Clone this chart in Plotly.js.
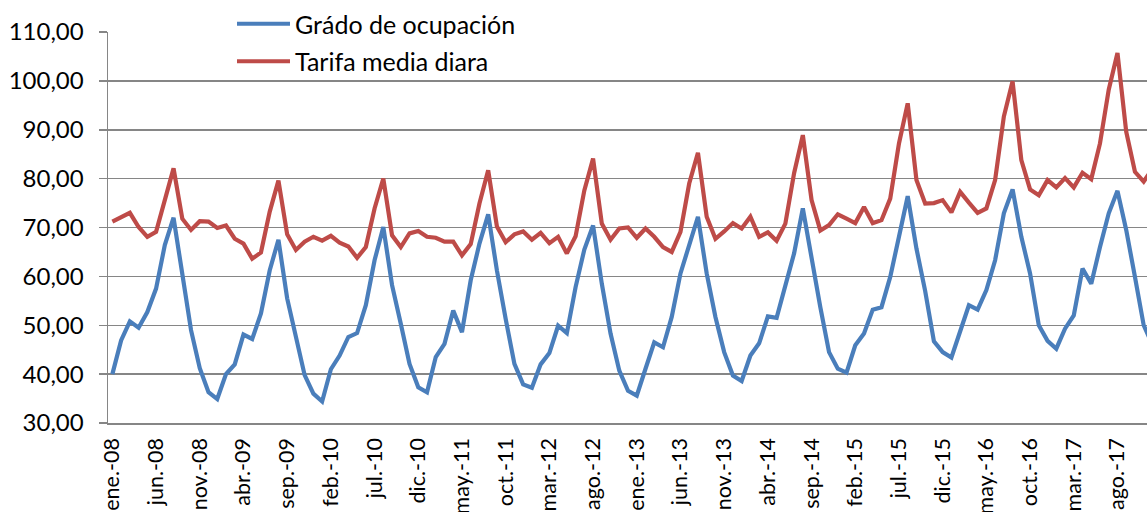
<!DOCTYPE html>
<html><head><meta charset="utf-8">
<script src="https://cdn.plot.ly/plotly-3.0.1.min.js"></script>
<style>html,body{margin:0;padding:0;background:#fff;overflow:hidden}#chart{width:1147px;height:512px}</style>
</head><body><div id="chart"></div>
<script>
const monthNames = ['ene.','feb.','mar.','abr.','may.','jun.','jul.','ago.','sep.','oct.','nov.','dic.'];
const years = ['08','09','10','11','12','13','14','15','16','17'];
const categories = [];
years.forEach(y => monthNames.forEach(m => categories.push(m + '-' + y)));

const ocupacion = [
  40.0,46.9,50.8,49.5,52.7,57.5,66.4,72.0,60.5,49.0,41.2,36.3,
  34.9,40.0,42.0,48.1,47.2,52.4,61.2,67.5,55.5,47.2,39.8,36.0,
  34.4,41.0,43.8,47.6,48.4,54.1,63.3,70.1,58.2,50.3,42.1,37.3,
  36.3,43.5,46.2,53.0,48.6,59.2,66.7,72.7,61.2,51.3,42.1,37.9,
  37.2,42.0,44.3,49.9,48.4,57.8,65.5,70.4,58.5,48.3,40.7,36.6,
  35.6,41.1,46.5,45.5,51.7,60.6,66.7,72.2,60.6,51.7,44.5,39.7,
  38.6,43.8,46.3,51.8,51.5,58.2,64.7,73.9,63.3,53.7,44.5,41.1,
  40.3,45.9,48.3,53.2,53.7,59.9,68.1,76.4,65.7,57.0,46.7,44.5,
  43.4,49.0,54.1,53.2,57.2,63.3,72.9,77.8,68.1,60.6,50.0,46.8,
  45.2,49.3,52.0,61.6,58.5,66.0,72.9,77.5,69.5,59.9,50.0,46.0
];
const tarifa = [
  71.2,72.0,73.0,70.1,68.1,69.1,75.6,82.1,71.8,69.5,71.3,71.2,
  69.9,70.4,67.7,66.7,63.6,64.9,73.2,79.6,68.6,65.4,67.1,68.1,
  67.3,68.3,66.9,66.1,63.8,66.0,73.9,80.0,68.4,66.0,68.8,69.3,
  68.1,67.9,67.1,67.1,64.3,66.6,74.9,81.7,70.2,67.0,68.6,69.2,
  67.5,68.9,66.8,68.1,64.7,68.2,77.6,84.1,70.8,67.5,69.8,70.0,
  67.9,69.8,68.1,66.0,65.0,69.1,79.0,85.3,72.2,67.7,69.2,70.9,
  69.8,72.2,68.1,69.0,67.3,70.8,81.1,88.9,75.6,69.4,70.5,72.7,
  71.8,70.9,74.2,70.9,71.5,75.9,87.2,95.4,79.7,74.9,75.0,75.6,
  73.1,77.3,75.1,73.0,73.9,79.7,92.7,99.9,83.8,77.8,76.6,79.7,
  78.2,80.1,78.2,81.2,79.9,87.2,98.2,105.7,89.6,81.4,79.4,82.0
];
const seriesNames = ['Grádo de ocupación', 'Tarifa media diara'];
const seriesColors = ['#4A7EBB', '#BE4B48'];

const tickLabels = categories.filter((c, i) => i % 5 === 0);
const boundaryTicks = categories.map((c, i) => i - 0.5).filter((v, i) => i % 5 === 0);

const W = 1147, H = 512, ML = 108, MT = 32, MB = 89;
const plotW = W - ML, plotH = H - MT - MB;
const step = 8.74;
const xRange = [-0.5, -0.5 + plotW / step];
const fontFam = 'Lato, "Open Sans", sans-serif';

const traces = [ocupacion, tarifa].map((vals, k) => ({
  type: 'scatter', mode: 'lines',
  x: categories, y: vals,
  name: seriesNames[k],
  legendgroup: 'g' + k,
  line: {color: seriesColors[k], width: 4.2, shape: 'linear'},
  hoverinfo: 'x+y'
}));

const layout = {
  width: W, height: H,
  margin: {l: ML, r: 0, t: MT, b: MB, pad: 0},
  paper_bgcolor: '#ffffff', plot_bgcolor: '#ffffff',
  separators: ',.',
  font: {family: fontFam, size: 22, color: '#000000'},
  showlegend: true,
  legend: {
    x: (232 - ML) / plotW, y: 1 + (MT - 1) / plotH,
    xanchor: 'left', yanchor: 'top',
    bgcolor: 'rgba(255,255,255,0)', borderwidth: 0,
    font: {family: fontFam, size: 25, color: '#000000'},
    traceorder: 'grouped', tracegroupgap: 2,
    itemwidth: 53
  },
  xaxis: {
    type: 'category', range: xRange,
    tickmode: 'array', tickvals: tickLabels, ticktext: tickLabels,
    tickangle: -90, ticks: '', showgrid: false,
    ticklabelstandoff: 5,
    showline: true, linecolor: '#868686', linewidth: 1.5,
    tickfont: {family: fontFam, size: 21.5, color: '#000000'},
    zeroline: false, fixedrange: true
  },
  xaxis2: {
    overlaying: 'x', anchor: 'y', side: 'bottom', type: 'linear',
    range: xRange, tickmode: 'array', tickvals: boundaryTicks,
    ticks: 'outside', ticklen: 8, tickwidth: 1.5, tickcolor: '#868686',
    showticklabels: false, showgrid: false, showline: false, zeroline: false
  },
  yaxis: {
    range: [30, 110], tickmode: 'linear', tick0: 30, dtick: 10,
    tickformat: '.2f', ticks: 'outside', ticklen: 8, tickwidth: 1.5, tickcolor: '#868686',
    ticklabelstandoff: 10,
    showgrid: true, gridcolor: '#868686', gridwidth: 1.5,
    showline: true, linecolor: '#868686', linewidth: 1.5,
    zeroline: false,
    tickfont: {family: fontFam, size: 24, color: '#000000'},
    fixedrange: true
  },
  shapes: [{
    type: 'rect', xref: 'paper', yref: 'paper', layer: 'above',
    x0: (145 - ML) / plotW, x1: (605 - ML) / plotW,
    y0: (H - MB - 79) / plotH, y1: 1.2,
    fillcolor: '#ffffff', line: {width: 0}
  }]
};

Plotly.newPlot('chart', traces, layout, {displayModeBar: false, staticPlot: true});
</script>
</body></html>
